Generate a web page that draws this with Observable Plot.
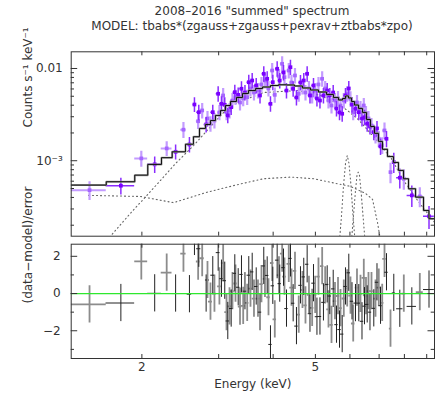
<!DOCTYPE html>
<html><head><meta charset="utf-8">
<script src="https://cdn.jsdelivr.net/npm/d3@7"></script>
<script src="https://cdn.jsdelivr.net/npm/@observablehq/plot@0.6"></script>
<style>
body{margin:0;background:#fff;}
#wrap{position:relative;width:435px;height:401px;font-family:"DejaVu Sans",sans-serif;color:#333;overflow:hidden;}
.title{position:absolute;left:70px;width:364px;text-align:center;font-size:12px;line-height:14px;white-space:nowrap;}
#top,#bot{position:absolute;left:0;}
#top{top:0}
#bot{top:240px}
</style></head><body>
<div id="wrap">
 <div class="title" style="top:4px">2008–2016 "summed" spectrum</div>
 <div class="title" style="top:19px">MODEL: tbabs*(zgauss+zgauss+pexrav+ztbabs*zpo)</div>
 <div id="top"></div><div id="bot"></div>
</div>
<script>
// ---- dataset 1 (dark) ----
const aE = [1.79, 2.14, 2.39, 2.571, 2.640,
 2.701, 2.808, 2.908, 2.992, 3.045, 3.098, 3.148, 3.205, 3.267, 3.326,
 3.384, 3.447, 3.517, 3.581, 3.658, 3.732, 3.807, 3.876, 3.944, 3.993,
 4.086, 4.142, 4.225, 4.292, 4.383, 4.446, 4.524, 4.621, 4.702, 4.787,
 4.859, 4.950, 5.041, 5.122, 5.217, 5.321, 5.395, 5.493, 5.589, 5.679,
 5.760, 5.861, 5.964, 6.066, 6.179, 6.288, 6.395, 6.480, 6.573, 6.670,
 6.806, 6.922, 7.052, 7.278,
 7.564, 7.808, 8.32, 9.11];
const aDE = [0.135, 0.078, 0.045, 0.03, 0.02,
 .03,.03,.03,.03,.028,.028,.028,.029,.03,.03,
 .03,.031,.032,.032,.033,.034,.034,.035,.035,.036,
 .037,.037,.038,.039,.039,.04,.041,.042,.042,.043,
 .044,.045,.045,.046,.047,.048,.049,.049,.05,.051,
 .052,.053,.054,.055,.056,.057,.058,.058,.059,.06,
 .061,.062,.064,.066,
 0.06, 0.13, 0.205, 0.26];
const aF = [0.000536, 0.000914, 0.00125, 0.0015, 0.00407,
 0.00336, 0.00247, 0.00336, 0.00532, 0.00414, 0.00404, 0.0031, 0.00381, 0.00553, 0.00518,
 0.00603, 0.00549, 0.0071, 0.00741, 0.00654, 0.0051, 0.00876, 0.00773, 0.00414, 0.0071,
 0.00993, 0.00741, 0.00905, 0.00577, 0.01033, 0.00603, 0.00485, 0.00705, 0.00741, 0.00876,
 0.0051, 0.00654, 0.00473, 0.0045, 0.0051, 0.00577, 0.0051, 0.00549, 0.00368, 0.00334,
 0.00323, 0.0051, 0.00607, 0.00407, 0.00366, 0.00336, 0.00287, 0.00296, 0.00252, 0.00235,
 0.00204, 0.00224, 0.00143, 0.00173,
 0.000966, 0.000654, 0.000421, 0.00025];
const aErr = [0.00011, 0.000185, 0.00023, 0.000285, 0.00074,
 0.00064, 0.00047, 0.00064, 0.00101, 0.00079, 0.00077, 0.00059, 0.00072, 0.00105, 0.00098,
 0.00115, 0.00104, 0.00135, 0.00141, 0.00124, 0.00097, 0.00166, 0.00147, 0.00079, 0.00135,
 0.00189, 0.00141, 0.00172, 0.0011, 0.00196, 0.00115, 0.00092, 0.00134, 0.00141, 0.00166,
 0.00097, 0.00124, 0.0009, 0.00086, 0.00097, 0.0011, 0.00097, 0.00104, 0.0007, 0.00063,
 0.00061, 0.00097, 0.00115, 0.00077, 0.0007, 0.00064, 0.00055, 0.00056, 0.00048, 0.00045,
 0.00039, 0.00043, 0.00029, 0.00035,
 0.00024, 0.00016, 0.00011, 0.00007];

// ---- dataset 2 (light) ----
const bE = [1.517, 1.994, 2.28, 2.491, 2.692,
 2.750, 2.828, 2.873, 2.934, 3.012, 3.072, 3.127, 3.177, 3.227, 3.279,
 3.358, 3.415, 3.488, 3.549, 3.615, 3.692, 3.761, 3.831, 3.903, 3.980,
 4.035, 4.125, 4.195, 4.247, 4.344, 4.407, 4.489, 4.579, 4.670, 4.745,
 4.833, 4.915, 4.994, 5.082, 5.182, 5.265, 5.358, 5.444, 5.545, 5.634,
 5.709, 5.809, 5.914, 6.018, 6.105, 6.228, 6.344, 6.456, 6.531, 6.618,
 6.724, 6.868, 6.988, 7.115, 7.202,
 7.434, 7.975, 8.678];
const bDE = [0.14, 0.068, 0.065, 0.035, 0.025,
 .03,.03,.03,.03,.028,.028,.028,.029,.03,.03,
 .03,.031,.032,.032,.033,.034,.034,.035,.035,.036,
 .037,.037,.038,.039,.039,.04,.041,.042,.042,.043,
 .044,.045,.045,.046,.047,.048,.049,.049,.05,.051,
 .052,.053,.054,.055,.056,.057,.058,.058,.059,.06,
 .061,.062,.063,.064,.066,
 0.045, 0.08, 0.16];
const bF = [0.00048, 0.00106, 0.00136, 0.00217, 0.00268,
 0.00351, 0.00287, 0.00252, 0.00273, 0.00334, 0.0051, 0.00334, 0.00351, 0.0045, 0.00489,
 0.00428, 0.00476, 0.00489, 0.00607, 0.00549, 0.00577, 0.00671, 0.00741, 0.00607, 0.00951,
 0.00518, 0.00819, 0.01124, 0.00805, 0.00951, 0.00705, 0.0084, 0.00532, 0.00638, 0.00549,
 0.00607, 0.0051, 0.00577, 0.00671, 0.00773, 0.00607, 0.0045, 0.00397, 0.0045, 0.00473,
 0.00397, 0.0045, 0.00532, 0.00469, 0.00336, 0.00428, 0.00368, 0.00397, 0.00325, 0.00287,
 0.00241, 0.00188, 0.00173, 0.00147, 0.00213,
 0.000752, 0.000638, 0.00041];
const bErr = [0.00011, 0.00021, 0.00025, 0.00043, 0.0005,
 0.00067, 0.00055, 0.00048, 0.00052, 0.00063, 0.00097, 0.00063, 0.00067, 0.00086, 0.00093,
 0.00081, 0.0009, 0.00093, 0.00115, 0.00104, 0.0011, 0.00127, 0.00141, 0.00115, 0.00181,
 0.00098, 0.00156, 0.00214, 0.00153, 0.00181, 0.00134, 0.0016, 0.00101, 0.00121, 0.00104,
 0.00115, 0.00097, 0.0011, 0.00127, 0.00147, 0.00115, 0.00086, 0.00075, 0.00086, 0.0009,
 0.00075, 0.00086, 0.00101, 0.00089, 0.00064, 0.00081, 0.0007, 0.00075, 0.00062, 0.00055,
 0.00046, 0.00036, 0.00035, 0.0003, 0.00043,
 0.00019, 0.00016, 0.0001];

// ---- folded model (step: lower bin edge, value) ----
const modelE = [1.377, 1.657, 1.926, 2.063, 2.218, 2.347, 2.518, 2.626, 2.711, 2.798,
 2.873, 2.950, 3.029, 3.110, 3.193, 3.296, 3.403, 3.513, 3.646, 3.783,
 3.945, 4.115, 4.293, 4.477, 4.670, 4.872, 5.082, 5.302, 5.501, 5.649,
 5.769, 5.862, 5.956, 6.050, 6.146, 6.278, 6.413, 6.548, 6.688, 6.831,
 6.977, 7.125, 7.316, 7.551, 7.753, 7.962, 8.176, 8.485, 8.850, 9.106, 9.378];
const modelF = [0.000544, 0.000592, 0.000698, 0.000912, 0.00108, 0.00125, 0.00151, 0.00182, 0.00224, 0.00247,
 0.00273, 0.00310, 0.00351, 0.00397, 0.00439, 0.00485, 0.00536, 0.00577, 0.00607, 0.00630,
 0.00654, 0.00666, 0.00663, 0.00646, 0.00615, 0.00585, 0.00556, 0.00523, 0.00485, 0.00456,
 0.00473, 0.00504, 0.00479, 0.00439, 0.00402, 0.00369, 0.00334, 0.00280, 0.00235, 0.00198,
 0.00162, 0.00133, 0.00111, 0.000958, 0.000785, 0.000638, 0.000497, 0.000403, 0.000289, 0.000235, 0.000235];

// ---- model components (dotted) ----
const plE = [1.607, 1.694, 1.883, 2.074, 2.388, 2.630, 3.002, 3.193, 3.801, 4.550, 5.137, 5.704, 5.920, 6.271, 6.824, 7.465, 7.962, 8.574, 9.378];
const plF = [0.000107, 0.000152, 0.00027, 0.000442, 0.00093, 0.00147, 0.00294, 0.00397, 0.00549, 0.00577, 0.0051, 0.00397, 0.00351, 0.0028, 0.00179, 0.00106, 0.000612, 0.000372, 0.000215];
const reflE = [1.509, 1.985, 2.363, 2.828, 3.313, 3.801, 4.385, 4.951, 5.619, 6.018, 6.515, 6.761, 6.939, 7.052];
const reflF = [0.000421, 0.00041, 0.000351, 0.000457, 0.00055, 0.000638, 0.000665, 0.000638, 0.000563, 0.000527, 0.000442, 0.000381, 0.000215, 0.000137];
const g1E = [5.679, 5.739, 5.800, 5.862, 5.915, 5.971, 6.034, 6.098, 6.163];
const g1F = [0.000137, 0.000255, 0.00054, 0.000935, 0.00114, 0.000935, 0.00054, 0.000255, 0.000137];
const g2E = [6.050, 6.114, 6.179, 6.228, 6.269, 6.311, 6.361, 6.429, 6.497];
const g2F = [0.000137, 0.000255, 0.000477, 0.000693, 0.000752, 0.000693, 0.000477, 0.000255, 0.000137];

// ---- axes ----
const xDomain = [1.377, 9.378];
const yDomainTop = [1.52e-4, 0.01517];
const yDomainRes = [-3.49, 2.65];
const xTickVals = [2, 3, 4, 5, 6, 7, 8, 9];
const xLabelVals = [2, 5];
const topMinor = [2e-4, 3e-4, 4e-4, 5e-4, 6e-4, 7e-4, 8e-4, 9e-4, 2e-3, 3e-3, 4e-3, 5e-3, 6e-3, 7e-3, 8e-3, 9e-3];
const topMajor = [1e-3, 1e-2];
const topLabelVals = [1e-2, 1e-3];
const topLabelText = ["0.01", "10⁻³"];
const resMajor = [-2, 0, 2];
const resMinor = [-3, -1, 1];
const resLabelText = ["−2", "0", "2"];

// ---- build ----
function modelAt(e) {
  let i = d3.bisectRight(modelE, e) - 1;
  i = Math.max(0, Math.min(i, modelF.length - 1));
  return modelF[i];
}
const mk = (E, DE, F, ERR) => E.map((e, i) => ({e, de: DE[i], f: F[i], err: ERR[i], r: (F[i] - modelAt(e)) / ERR[i]}));
const A = mk(aE, aDE, aF, aErr);
const B = mk(bE, bDE, bF, bErr);
const model = modelE.map((e, i) => ({e, f: modelF[i]}));
const comp = (E, F) => E.map((e, i) => ({e, f: F[i]}));
const comps = [comp(plE, plF), comp(reflE, reflF), comp(g1E, g1F), comp(g2E, g2F)];

const W = 435, ML = 70.7, MR = 1;
const FW = W - ML - MR;
const font = "'DejaVu Sans', sans-serif";
const ink = "#333", frameInk = "#333";
const darkV = "#8a2cff", darkM = "#7a00ff", lightV = "#c39bff", lightM = "#a566ff";
const dotted = {stroke: "#666", strokeWidth: 1.1, strokeDasharray: "1 3", clip: true};

const TH = 240, TMT = 51.3, TMB = 4.3, TFH = TH - TMT - TMB;
const topPlot = Plot.plot({
  width: W, height: TH, marginLeft: ML, marginRight: MR, marginTop: TMT, marginBottom: TMB,
  style: {background: "transparent", fontFamily: font, color: ink, overflow: "visible"},
  x: {type: "log", domain: xDomain, axis: null},
  y: {type: "log", domain: yDomainTop, axis: null},
  marks: [
    ...comps.map(c => Plot.line(c, {x: "e", y: "f", ...dotted})),
    Plot.ruleY(B, {y: "f", x1: d => d.e - d.de, x2: d => d.e + d.de, stroke: lightV, strokeWidth: 2, clip: true}),
    Plot.ruleX(B, {x: "e", y1: d => d.f - d.err, y2: d => d.f + d.err, stroke: lightV, strokeWidth: 2.2, clip: true}),
    Plot.dot(B, {x: "e", y: "f", symbol: "square", r: 2.1, fill: lightM, stroke: "none"}),
    Plot.ruleY(A, {y: "f", x1: d => d.e - d.de, x2: d => d.e + d.de, stroke: darkV, strokeWidth: 1.5, clip: true}),
    Plot.ruleX(A, {x: "e", y1: d => d.f - d.err, y2: d => d.f + d.err, stroke: darkV, strokeWidth: 1.5, clip: true}),
    Plot.dot(A, {x: "e", y: "f", symbol: "square", r: 2.1, fill: darkM, stroke: "none"}),
    Plot.line(model, {x: "e", y: "f", curve: "step-after", stroke: "#9a9a9a", strokeWidth: 2, clip: true}),
    Plot.line(model, {x: "e", y: "f", curve: "step-after", stroke: "#111", strokeWidth: 1, clip: true}),
    Plot.ruleX(xTickVals, {x: d => d, insetTop: TFH - 4, stroke: frameInk}),
    Plot.ruleX(xTickVals, {x: d => d, insetBottom: TFH - 4, stroke: frameInk}),
    Plot.ruleY(topMinor, {y: d => d, insetRight: FW - 3.3, stroke: frameInk}),
    Plot.ruleY(topMinor, {y: d => d, insetLeft: FW - 3.3, stroke: frameInk}),
    Plot.ruleY(topMajor, {y: d => d, insetRight: FW - 6.5, stroke: frameInk}),
    Plot.ruleY(topMajor, {y: d => d, insetLeft: FW - 6.5, stroke: frameInk}),
    Plot.frame({stroke: frameInk}),
    Plot.text(topLabelVals, {y: d => d, text: (d, i) => topLabelText[i], frameAnchor: "left", dx: -8.5, textAnchor: "end", fontSize: 12, fill: ink}),
    Plot.text(["Counts s⁻¹ keV⁻¹"], {text: d => d, frameAnchor: "left", rotate: -90, dx: -43.5, dy: -16.5, fontSize: 12, fill: ink})
  ]
});
document.getElementById("top").appendChild(topPlot);

const BH = 161, BMT = 3.7, BMB = 43, BFH = BH - BMT - BMB;
const botPlot = Plot.plot({
  width: W, height: BH, marginLeft: ML, marginRight: MR, marginTop: BMT, marginBottom: BMB,
  style: {background: "transparent", fontFamily: font, color: ink, overflow: "visible"},
  x: {type: "log", domain: xDomain, axis: null},
  y: {domain: yDomainRes, axis: null},
  marks: [
    Plot.ruleY(B, {y: "r", x1: d => d.e - d.de, x2: d => d.e + d.de, stroke: "#8c8c8c", strokeWidth: 1.8, clip: true}),
    Plot.ruleX(B, {x: "e", y1: d => d.r - 1, y2: d => d.r + 1, stroke: "#8c8c8c", strokeWidth: 1.8, clip: true}),
    Plot.ruleY(A, {y: "r", x1: d => d.e - d.de, x2: d => d.e + d.de, stroke: "#222", strokeWidth: 1, clip: true}),
    Plot.ruleX(A, {x: "e", y1: d => d.r - 1, y2: d => d.r + 1, stroke: "#222", strokeWidth: 1, clip: true}),
    Plot.ruleY([0], {stroke: "#2ee82e", strokeWidth: 1.2}),
    Plot.ruleX(xTickVals, {x: d => d, insetTop: BFH - 4, stroke: frameInk}),
    Plot.ruleX(xTickVals, {x: d => d, insetBottom: BFH - 4, stroke: frameInk}),
    Plot.ruleY(resMinor, {y: d => d, insetRight: FW - 3.3, stroke: frameInk}),
    Plot.ruleY(resMinor, {y: d => d, insetLeft: FW - 3.3, stroke: frameInk}),
    Plot.ruleY(resMajor, {y: d => d, insetRight: FW - 6.5, stroke: frameInk}),
    Plot.ruleY(resMajor, {y: d => d, insetLeft: FW - 6.5, stroke: frameInk}),
    Plot.frame({stroke: frameInk}),
    Plot.text(resMajor, {y: d => d, text: (d, i) => resLabelText[i], frameAnchor: "left", dx: -10.5, textAnchor: "end", fontSize: 12, fill: ink}),
    Plot.text(xLabelVals, {x: d => d, text: d => String(d), frameAnchor: "bottom", dy: 12, fontSize: 12, fill: ink}),
    Plot.text(["Energy (keV)"], {text: d => d, frameAnchor: "bottom", dy: 29, fontSize: 12, fill: ink}),
    Plot.text(["(data−model)/error"], {text: d => d, frameAnchor: "left", rotate: -90, dx: -43.5, dy: 2.2, fontSize: 12, fill: ink})
  ]
});
document.getElementById("bot").appendChild(botPlot);
</script>
</body></html>
